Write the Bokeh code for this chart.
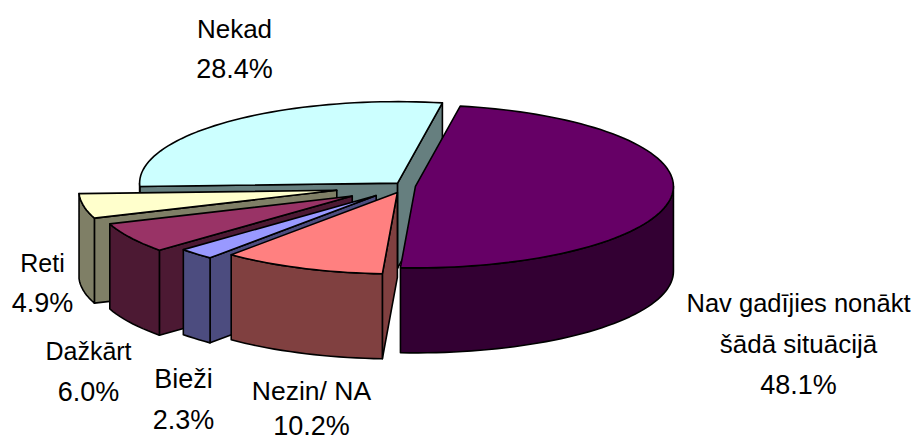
import math
from bokeh.plotting import figure
from bokeh.models import Range1d
from bokeh.core.properties import value
from bokeh.embed import file_html
from bokeh.resources import INLINE

# Data, in drawing order round the pie (clockwise from the top)
categories = ["Nav gadījies nonākt|šādā situācijā", "Nezin/ NA", "Bieži", "Dažkārt", "Reti", "Nekad"]
shares = [48.1, 10.2, 2.3, 6.0, 4.9, 28.4]
top_colors = ["#660066", "#FF8080", "#9999FF", "#993366", "#FFFFCC", "#CCFFFF"]
side_colors = ["#330033", "#804040", "#4C4C7F", "#4C1933", "#7F7F66", "#667F7F"]
explosions = [10, 22, 42, 62, 70, 12]

# Layout of the 3-D pie, in page pixels
CX, CY = 405.0, 185.5
RX, RY = 258.0, 81.5
DEPTH = 85.0
FIRST_ANGLE = 80.0
TILT = RY / RX
label_centres = [798, 311, 183, 88, 42, 234]
label_baselines = [312, 400, 388, 360, 272, 38]
label_steps = [41, 35, 41, 41, 40, 40]
label_name_sizes = [["25.5px", "26px"], ["26.5px"], ["27px"], ["25px"], ["25px"], ["26px"]]
CAP_MID = 10  # distance from a line's baseline up to the middle of its capitals
PERCENT_SIZE = "27px"


def arc(ax, ay, t0, t1):
    n = max(2, int(abs(t1 - t0) / 2) + 2)
    ts = [math.radians(t0 + (t1 - t0) * i / (n - 1)) for i in range(n)]
    return [ax + RX * math.cos(t) for t in ts], [ay - RY * math.sin(t) for t in ts]


xs, ys, fills = [], [], []


def add(px, py, c):
    xs.append(px)
    ys.append(py)
    fills.append(c)


sweeps = []
t = FIRST_ANGLE
total = sum(shares)
for s in shares:
    sweeps.append((t, t - s / total * 360.0))
    t = sweeps[-1][1]

# Back slices first: the first (front right) slice is painted last.
for i in [5, 4, 3, 2, 1, 0]:
    t0, t1 = sweeps[i]
    mid = math.radians((t0 + t1) / 2)
    ax = CX + explosions[i] * math.cos(mid)
    ay = CY - explosions[i] * TILT * math.sin(mid)
    # cut walls that face the viewer
    for edge, normal in ((t0, t0 + 90), (t1, t1 - 90)):
        if math.sin(math.radians(normal)) < 0:
            ox = ax + RX * math.cos(math.radians(edge))
            oy = ay - RY * math.sin(math.radians(edge))
            add([ax, ox, ox, ax], [ay, oy, oy + DEPTH, ay + DEPTH], side_colors[i])
    # outer rim, front half only
    k0 = t0
    while k0 > t1:
        k1 = max(t1, math.floor((k0 - 1e-9) / 180.0) * 180.0)
        if math.sin(math.radians((k0 + k1) / 2)) < 0:
            rx, ry = arc(ax, ay, k0, k1)
            add(rx + rx[::-1], ry + [y + DEPTH for y in ry[::-1]], side_colors[i])
        k0 = k1
    # top face
    tx, ty = arc(ax, ay, t0, t1)
    add([ax] + tx, [ay] + ty, top_colors[i])

p = figure(width=911, height=441, x_range=Range1d(0, 911), y_range=Range1d(441, 0),
           x_axis_type=None, y_axis_type=None, min_border=0, outline_line_color=None,
           output_backend="svg", toolbar_location=None)
p.grid.visible = False
p.styles = {"position": "absolute", "left": "0", "top": "0"}

p.patches(xs, ys, fill_color=fills, line_color="#000000", line_width=1.6, line_join="round")

tx_, ty_, tt_, ts_ = [], [], [], []
for cat, share, cx, base, step, sizes in zip(categories, shares, label_centres, label_baselines, label_steps, label_name_sizes):
    lines = cat.split("|") + [f"{share:.1f}%"]
    line_sizes = sizes + [PERCENT_SIZE]
    for j, line in enumerate(lines):
        tx_.append(cx)
        ty_.append(base + j * step - CAP_MID)
        tt_.append(line)
        ts_.append(line_sizes[j])

p.text(x=tx_, y=ty_, text=tt_, text_align="center", text_baseline="middle",
       text_font_size=ts_, text_font=value("Liberation Sans"), text_color="#000000")

open("out.html", "w").write(file_html(p, INLINE))
